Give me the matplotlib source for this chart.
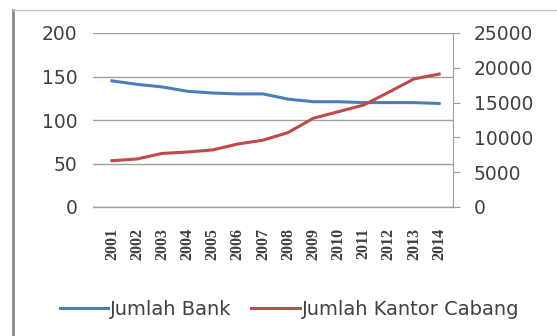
import matplotlib.pyplot as plt
from matplotlib.lines import Line2D

# Data
years = ["2001", "2002", "2003", "2004", "2005", "2006", "2007",
         "2008", "2009", "2010", "2011", "2012", "2013", "2014"]
jumlah_bank = [145, 141, 138, 133, 131, 130, 130, 124, 121, 121, 120, 120, 120, 119]
kantor_cabang = [6650, 6900, 7700, 7900, 8200, 9050, 9600,
                 10700, 12750, 13700, 14650, 16500, 18400, 19100]

blue = "#4a7ebb"
red = "#be4b48"
grid_col = "#a0a0a0"
text_col = "#404040"

fig = plt.figure(figsize=(5.57, 3.36), dpi=100)
# outer frame (left and top edges visible)
fig.lines.append(Line2D([13 / 557, 13 / 557], [0, 1 - 10 / 336], transform=fig.transFigure,
                        color="#8a8a8a", linewidth=2))
fig.lines.append(Line2D([13 / 557, 1], [1 - 10 / 336, 1 - 10 / 336], transform=fig.transFigure,
                        color="#c8c8c8", linewidth=1))

ax = fig.add_axes([93 / 557, 1 - 207 / 336, 360 / 557, 174 / 336])
ax2 = ax.twinx()

x = list(range(len(years)))
ax.plot(x, jumlah_bank, color=blue, linewidth=2.2, label="Jumlah Bank")
ax2.plot(x, kantor_cabang, color=red, linewidth=2.2, label="Jumlah Kantor Cabang")

ax.set_ylim(0, 200)
ax.set_yticks([0, 50, 100, 150, 200])
ax2.set_ylim(0, 25000)
ax2.set_yticks([0, 5000, 10000, 15000, 20000, 25000])
ax.set_xlim(-0.75, len(years) - 0.45)
ax.set_xticks(x)
ax.set_xticklabels(years, rotation=90, family="Liberation Serif",
                   fontweight="bold", fontsize=11.5, color=text_col)

ax.yaxis.grid(True, color=grid_col, linewidth=1)
ax.axhline(0, color=grid_col, linewidth=1, clip_on=False)
ax.set_axisbelow(True)
for a in (ax, ax2):
    for s in ("top", "left", "bottom"):
        a.spines[s].set_visible(False)
ax.spines["right"].set_visible(False)
ax2.spines["right"].set_color(grid_col)
ax.tick_params(axis="y", length=0, labelsize=13.5, labelcolor=text_col, pad=11)
ax.tick_params(axis="x", length=0, pad=15)
ax2.tick_params(axis="y", length=5, color=grid_col, labelsize=13.5, labelcolor=text_col, pad=10)

h1, l1 = ax.get_legend_handles_labels()
h2, l2 = ax2.get_legend_handles_labels()
fig.legend(h1 + h2, l1 + l2, loc="center", bbox_to_anchor=(0.52, 0.08), ncol=2,
           frameon=False, handlelength=2.5, columnspacing=1.0,
           handletextpad=0.1, prop={"family": "DejaVu Sans", "size": 14})
for t in fig.legends[0].get_texts():
    t.set_color(text_col)

fig.savefig("out.png", dpi=100)
